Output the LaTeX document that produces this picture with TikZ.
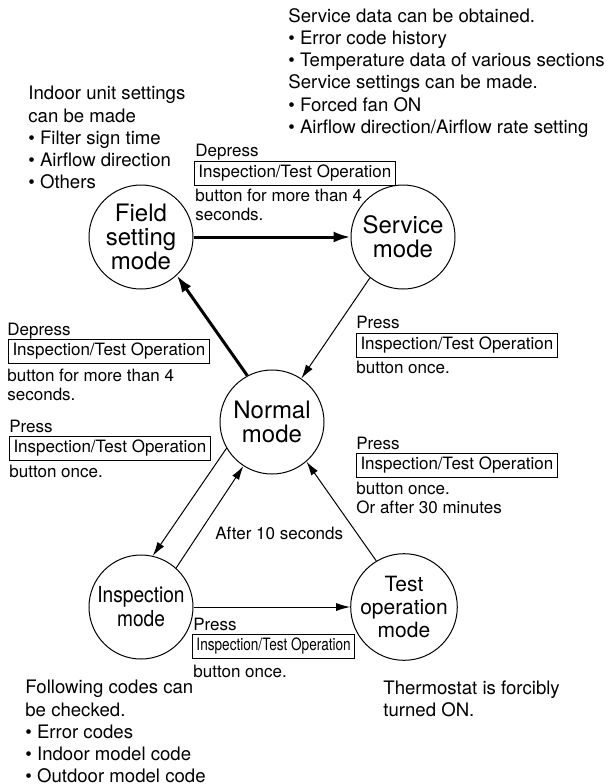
\documentclass[tikz,border=0pt]{standalone}
\usepackage{fontspec}
\usepackage{graphicx}
\setmainfont{TeX Gyre Heros}
\usetikzlibrary{arrows.meta}

\begin{document}
\begin{tikzpicture}[x=0.5pt,y=-0.5pt,
  mode/.style={draw,circle,line width=0.5pt,minimum size=52pt,inner sep=0pt,align=center,
    font=\fontsize{12}{12}\selectfont},
  txt/.style={inner sep=0pt,anchor=north west,align=left,font=\fontsize{9.3}{11.1}\selectfont},
  note/.style={inner sep=0pt,anchor=north west,align=left,font=\fontsize{8.5}{9.4}\selectfont},
  btn/.style={draw,line width=0.5pt,inner xsep=2pt,inner ysep=0pt,minimum height=12pt,anchor=west,
    font=\fontsize{8.5}{10}\selectfont},
  bigarrow/.style={line width=1.5pt,-{Latex[length=8.5pt,width=5.5pt]}},
  smallarrow/.style={line width=0.5pt,-{Latex[length=7pt,width=4pt]}}]
\useasboundingbox (0,0) rectangle (608,784);

% the five modes
\node[mode] (field) at (141,237) {Field\\setting\\mode};
\node[mode] (service) at (403,237) {Service\\mode};
\node[mode] (normal) at (272,422) {Normal\\mode};
\node[mode,font=\fontsize{11}{12}\selectfont] (insp) at (141,607)
  {\scalebox{0.87}[1]{Inspection}\\\scalebox{0.87}[1]{mode}};
\node[mode,font=\fontsize{10.5}{11.5}\selectfont] (test) at (404,607) {Test\\operation\\mode};

% transitions
\draw[bigarrow] (field) -- (service);
\draw[bigarrow] (normal.118) -- (field.-47);
\draw[smallarrow] (service.-129) -- (normal.56);
\draw[smallarrow] (normal.-150) -- (insp.77);
\draw[smallarrow] (insp.48) -- (normal.-123);
\draw[smallarrow] (test.121) -- (normal.-49);
\draw[smallarrow] (insp) -- (test);

% what each mode offers
\node[txt] (servicedata) at (288,8) {Service data can be obtained.\\
  \textbullet\ Error code history\\
  \textbullet\ Temperature data of various sections\\
  Service settings can be made.\\
  \textbullet\ Forced fan ON\\
  \textbullet\ Airflow direction/Airflow rate setting};
\node[txt] (indoor) at (28,86) {Indoor unit settings\\can be made\\
  \textbullet\ Filter sign time\\
  \textbullet\ Airflow direction\\
  \textbullet\ Others};
\node[txt] (codes) at (25,680) {Following codes can\\be checked.\\
  \textbullet\ Error codes\\
  \textbullet\ Indoor model code\\
  \textbullet\ Outdoor model code};
\node[txt] (thermo) at (383,680) {Thermostat is forcibly\\turned ON.};

% button labels
\node[note] (deptop) at (195,144) {Depress};
\node[btn] (btntop) at (194,173) {Inspection/Test Operation};
\node[note] (notetop) at (195,188.5) {button for more than 4\\seconds.};

\node[note] (depleft) at (7,322.5) {Depress};
\node[btn] (btnleft) at (8,351) {Inspection/Test Operation};
\node[note] (noteleft) at (7,368.5) {button for more than 4\\seconds.};

\node[note] (pressleft) at (9,419.5) {Press};
\node[btn] (btnleftb) at (9,448) {Inspection/Test Operation};
\node[note] (noteleftb) at (9,464.5) {button once.};

\node[note] (pressright) at (356,315.5) {Press};
\node[btn] (btnright) at (356,345) {Inspection/Test Operation};
\node[note] (noteright) at (356,360.5) {button once.};

\node[note] (pressrightb) at (356,436.5) {Press};
\node[btn] (btnrightb) at (356,465) {Inspection/Test Operation};
\node[note] (noterightb) at (356,481.5) {button once.\\Or after 30 minutes};

\node[note] (after) at (215,526.5) {After 10 seconds};

\node[note] (pressbot) at (193,617.5) {Press};
\node[btn] (btnbot) at (192,646) {\scalebox{0.8}[1]{Inspection/Test Operation}};
\node[note] (notebot) at (193,664.5) {button once.};
\end{tikzpicture}
\end{document}
